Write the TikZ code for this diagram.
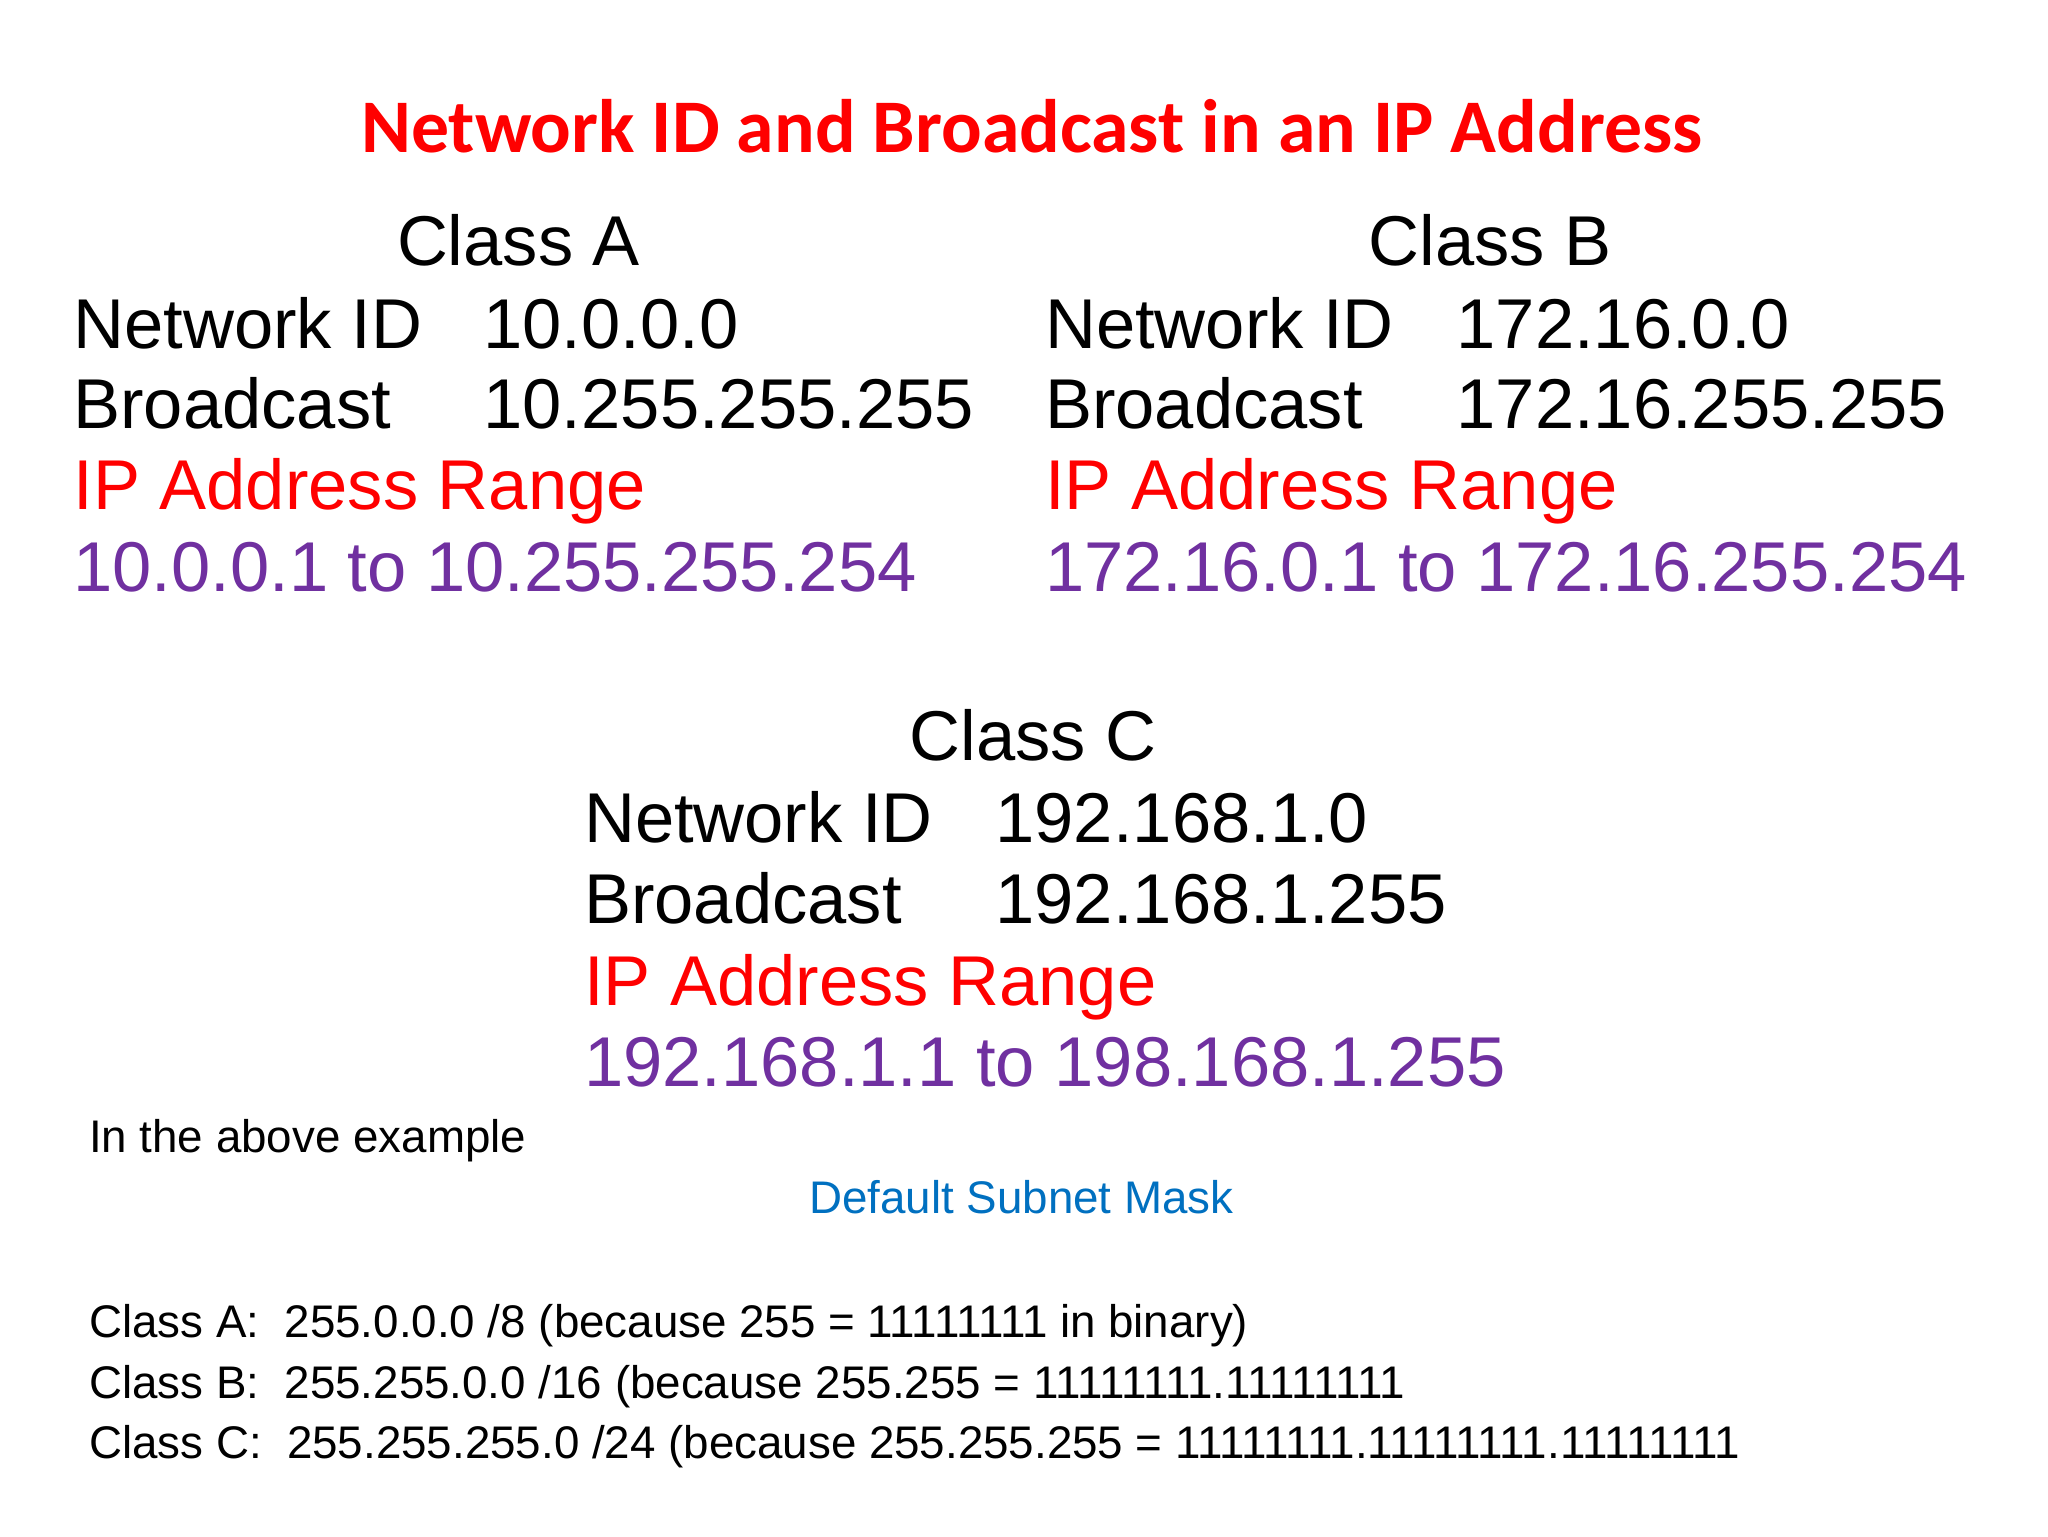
\documentclass[tikz,border=0pt]{standalone}
\usepackage{fontspec}
\setmainfont{Liberation Sans}
\newfontfamily\titlefont{Carlito}
\definecolor{tred}{HTML}{FF0000}
\definecolor{tpurple}{HTML}{7030A0}
\definecolor{tblue}{HTML}{0070C0}
\begin{document}
\begin{tikzpicture}[x=1pt,y=-1pt,
  big/.style={anchor=base west,inner sep=0pt,font=\fontsize{54}{60}\selectfont},
  bigc/.style={anchor=base,inner sep=0pt,font=\fontsize{54}{60}\selectfont},
  small/.style={anchor=base west,inner sep=0pt,font=\fontsize{35}{40}\selectfont}]
\useasboundingbox[fill=white] (0,0) rectangle (1568,1176);
\node[anchor=base,inner sep=0pt,text=tred,font=\titlefont\bfseries\fontsize{58}{64}\selectfont] (title) at (790,117) {Network ID and Broadcast in an IP Address};
% Class A
\node[bigc] (ca) at (397,203) {Class A};
\node[big] (ania) at (56,267) {Network ID};
\node[big] (aniv) at (370,267) {10.0.0.0};
\node[big] (abra) at (56,328) {Broadcast};
\node[big] (abrv) at (370,328) {10.255.255.255};
\node[big,text=tred] (aip) at (56,390) {IP Address Range};
\node[big,text=tpurple] (arng) at (56,453) {10.0.0.1 to 10.255.255.254};
% Class B
\node[bigc] (cb) at (1141,203) {Class B};
\node[big] (bnia) at (800,267) {Network ID};
\node[big] (bniv) at (1115,267) {172.16.0.0};
\node[big] (bbra) at (800,328) {Broadcast};
\node[big] (bbrv) at (1115,328) {172.16.255.255};
\node[big,text=tred] (bip) at (800,390) {IP Address Range};
\node[big,text=tpurple] (brng) at (800,453) {172.16.0.1 to 172.16.255.254};
% Class C
\node[bigc] (cc) at (791,582) {Class C};
\node[big] (cnia) at (447,645) {Network ID};
\node[big] (cniv) at (762,645) {192.168.1.0};
\node[big] (cbra) at (447,707) {Broadcast};
\node[big] (cbrv) at (762,707) {192.168.1.255};
\node[big,text=tred] (cip) at (447,770) {IP Address Range};
\node[big,text=tpurple] (crng) at (447,832) {192.168.1.1 to 198.168.1.255};
% bottom
\node[small] (ex) at (68,882) {In the above example};
\node[anchor=base,inner sep=0pt,text=tblue,font=\fontsize{35}{40}\selectfont] (dsm) at (782,929) {Default Subnet Mask};
\node[small] (l1) at (68,1024) {Class A:\ \ 255.0.0.0 /8 (because 255 = 11111111 in binary)};
\node[small] (l2) at (68,1071) {Class B:\ \ 255.255.0.0 /16 (because 255.255 = 11111111.11111111};
\node[small] (l3) at (68,1117) {Class C:\ \ 255.255.255.0 /24 (because 255.255.255 = 11111111.11111111.11111111};
\end{tikzpicture}
\end{document}
